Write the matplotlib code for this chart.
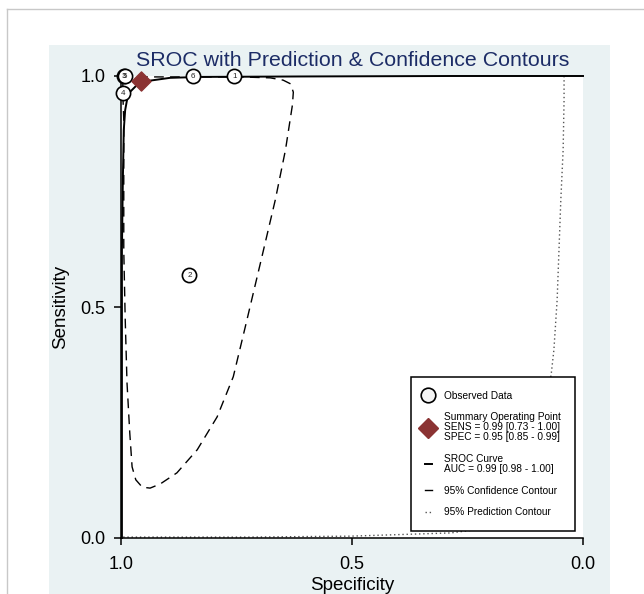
import matplotlib
matplotlib.use("Agg")
import matplotlib.pyplot as plt
from matplotlib.lines import Line2D

plt.rcParams['font.family'] = ['Liberation Sans', 'DejaVu Sans']

# ---------------- data ----------------
study_ids = ['3', '1', '2', '4', '5', '6']
study_spec = [0.993, 0.755, 0.852, 0.996, 0.991, 0.844]
study_sens = [1.000, 1.000, 0.569, 0.963, 1.000, 1.000]

summary_spec = 0.957
summary_sens = 0.989

sroc_spec = [0.998, 0.998, 0.998, 0.996, 0.994, 0.991, 0.987, 0.981, 0.965, 0.944, 0.894, 0.829, 0.612, 0.286, 0.0]
sroc_sens = [0.000, 0.299, 0.623, 0.775, 0.883, 0.926, 0.948, 0.965, 0.981, 0.989, 0.996, 0.998, 0.999, 1.000, 1.000]

conf_spec = [0.996, 0.981, 0.915, 0.829, 0.742, 0.677, 0.649, 0.633, 0.627, 0.629, 0.644, 0.666, 0.694,
             0.731, 0.757, 0.792, 0.835, 0.879, 0.915, 0.937, 0.954, 0.968, 0.976, 0.981, 0.987, 0.991,
             0.994, 0.994, 0.994, 0.996, 0.996]
conf_sens = [0.991, 0.998, 0.998, 0.998, 0.998, 0.996, 0.991, 0.983, 0.965, 0.937, 0.840, 0.732, 0.613,
             0.457, 0.349, 0.262, 0.191, 0.141, 0.117, 0.108, 0.110, 0.126, 0.154, 0.227, 0.336, 0.478,
             0.623, 0.775, 0.905, 0.959, 0.991]

pred_spec = [0.041, 0.041, 0.043, 0.048, 0.052, 0.056, 0.063, 0.069, 0.091, 0.135, 0.200, 0.286, 0.503, 0.720, 1.0]
pred_sens = [1.000, 0.948, 0.840, 0.732, 0.623, 0.515, 0.407, 0.353, 0.234, 0.104, 0.022, 0.011, 0.004, 0.002, 0.002]

x_ticks = [1.0, 0.5, 0.0]
x_ticklabels = ['1.0', '0.5', '0.0']
y_ticks = [0.0, 0.5, 1.0]
y_ticklabels = ['0.0', '0.5', '1.0']

title = 'SROC with Prediction & Confidence Contours'
legend_labels = ['Observed Data',
                 'Summary Operating Point\nSENS = 0.99 [0.73 - 1.00]\nSPEC = 0.95 [0.85 - 0.99]',
                 'SROC Curve\nAUC = 0.99 [0.98 - 1.00]',
                 '95% Confidence Contour',
                 '95% Prediction Contour']

# ---------------- figure ----------------
W, H = 644, 594
fig = plt.figure(figsize=(W / 100, H / 100), dpi=100)
fig.patch.set_facecolor('white')

# Stata-like graph region
bg_color = '#EAF2F3'
fig.patches.append(plt.Rectangle((49 / W, 0), (610 - 49) / W, (H - 45) / H,
                                 transform=fig.transFigure, facecolor=bg_color,
                                 edgecolor='none', zorder=-10))
# thin gray frame lines
fig.add_artist(Line2D([7 / W, 7 / W], [0, 1 - 9 / H], transform=fig.transFigure,
                      color='#c8c8c8', lw=1))
fig.add_artist(Line2D([7 / W, 1], [1 - 9 / H, 1 - 9 / H], transform=fig.transFigure,
                      color='#c8c8c8', lw=1))

ax_l, ax_r, ax_t, ax_b = 121, 583, 76, 538
ax = fig.add_axes([ax_l / W, 1 - ax_b / H, (ax_r - ax_l) / W, (ax_b - ax_t) / H])
ax.set_facecolor('white')
ax.set_xlim(1, 0)
ax.set_ylim(0, 1)

for s in ['top', 'right']:
    ax.spines[s].set_visible(False)
for s in ['left', 'bottom']:
    ax.spines[s].set_linewidth(1.1)
    ax.spines[s].set_color('black')

ax.set_xticks(x_ticks)
ax.set_xticklabels(x_ticklabels)
ax.set_yticks(y_ticks)
ax.set_yticklabels(y_ticklabels)
ax.tick_params(axis='both', direction='out', length=5, width=1.1, labelsize=13, colors='black')
ax.tick_params(axis='x', pad=8)
ax.tick_params(axis='y', pad=6)

ax.set_xlabel('Specificity', fontsize=13.5, labelpad=3)
ax.set_ylabel('Sensitivity', fontsize=13.5, labelpad=8)
fig.text((ax_l + ax_r) / 2 / W + 0.001, 1 - 60.5 / H, title, fontsize=15.4, color='#1c2c66',
         ha='center', va='center')

# curves
ax.plot(pred_spec, pred_sens, color='#555555', lw=1.0, linestyle=(0, (1, 2)), zorder=2, clip_on=False)
ax.plot(conf_spec, conf_sens, color='black', lw=1.0, linestyle=(0, (7, 4.5)), zorder=3)
ax.plot(sroc_spec, sroc_sens, color='black', lw=1.4, zorder=4, clip_on=False)

# observed data
ax.scatter(study_spec, study_sens, s=105, facecolor='white', edgecolor='black',
           linewidth=1.2, zorder=5, clip_on=False)
for sid, sx, sy in zip(study_ids, study_spec, study_sens):
    ax.text(sx, sy, sid, fontsize=5.8, ha='center', va='center', zorder=6, color='#222222')

# summary point
ax.scatter([summary_spec], [summary_sens], marker='D', s=95, color='#8B3333',
           edgecolor='#8B3333', zorder=7, clip_on=False)

# legend
handles = [
    Line2D([], [], marker='o', linestyle='none', markersize=10.5, markerfacecolor='#f4f4f4',
           markeredgecolor='black', markeredgewidth=1.2),
    Line2D([], [], marker='D', linestyle='none', markersize=10, color='#8B3333'),
    Line2D([], [], color='black', lw=1.4),
    Line2D([], [], color='black', lw=1.0),
    Line2D([], [], color='#555555', lw=1.0, linestyle=(0, (1, 2))),
]
x0 = (411 - ax_l) / (ax_r - ax_l)
x1 = (575 - ax_l) / (ax_r - ax_l)
y0 = (ax_b - 532) / (ax_b - ax_t)
y1 = (ax_b - 377) / (ax_b - ax_t)
leg = ax.legend(handles, legend_labels, loc='upper left', bbox_to_anchor=(x0, y0, x1 - x0, y1 - y0),
                mode='expand', fontsize=7.3, frameon=True, fancybox=False, framealpha=1,
                edgecolor='black', handlelength=0.7, handletextpad=1.2, labelspacing=1.15,
                borderpad=1.35, borderaxespad=0)
for t in leg.get_texts():
    t.set_linespacing(1.0)
leg.get_frame().set_linewidth(1.1)
leg.set_zorder(10)

fig.savefig('out.png', dpi=100, facecolor='white')
